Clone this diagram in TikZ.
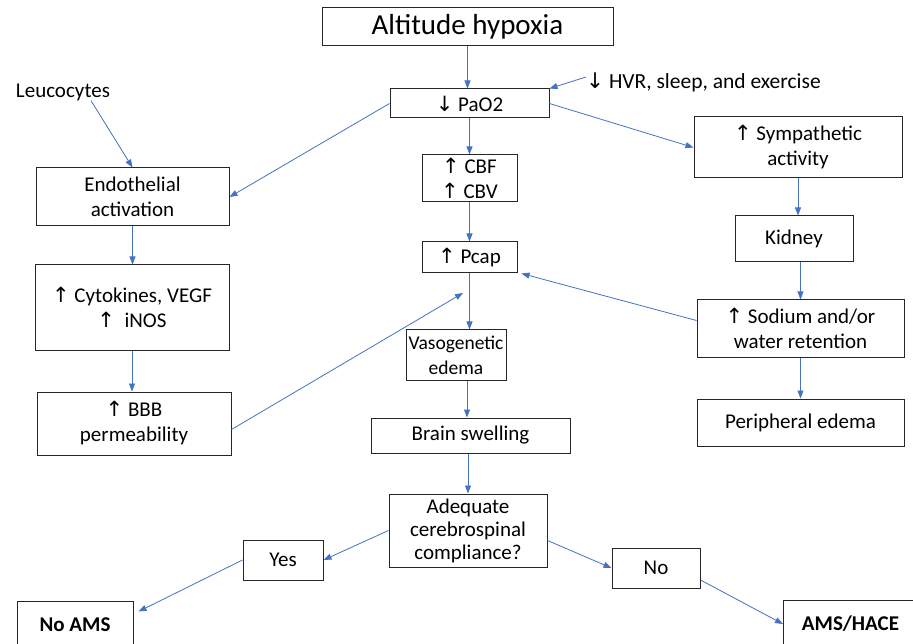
\documentclass[tikz,border=0pt]{standalone}
\usepackage{fontspec}
\setmainfont{Carlito}
\newfontfamily\arrfont{DejaVu Sans}
\usetikzlibrary{arrows.meta,calc}
\definecolor{arrowblue}{HTML}{4472C4}
\newcommand{\uparr}{{\arrfont\char"2191}}
\newcommand{\dnarr}{{\arrfont\char"2193}}
\begin{document}
\begin{tikzpicture}[x=1pt,y=-1pt,
  box/.style={draw=black!85, line width=1pt, inner sep=0pt, align=center,
    font=\fontsize{21}{25}\selectfont, text=black},
  plain/.style={inner sep=0pt, font=\fontsize{21}{25}\selectfont, text=black},
  con/.style={draw=arrowblue, line width=0.8pt, -{Triangle[length=8pt,width=6pt]}}]
\useasboundingbox (0,0) rectangle (913,644);
\fill[white] (0,0) rectangle (913,644);
\begin{scope}
\clip (0,0) rectangle (913,644);
% nodes
\node[box, minimum width=291pt, minimum height=38pt, font=\fontsize{29}{33}\selectfont] (alt) at (467.5,27) {Altitude hypoxia};
\node[box, minimum width=159pt, minimum height=29pt] (pao2) at (469.5,103.5) {\dnarr\ PaO2};
\node[plain, anchor=west, font=\fontsize{21.5}{25}\selectfont] (hvr) at (586,82) {\dnarr\ HVR, sleep, and exercise};
\node[plain] (leu) at (63,92) {Leucocytes};
\node[box, minimum width=193pt, minimum height=58pt] (endo) at (132.5,197) {Endothelial\\activation};
\node[box, minimum width=95pt, minimum height=47pt] (cbf) at (469.5,178.5) {\uparr\ CBF\\\uparr\ CBV};
\node[box, minimum width=208pt, minimum height=61pt] (symp) at (798,147.5) {\uparr\ Sympathetic\\activity};
\node[box, minimum width=95pt, minimum height=31pt] (pcap) at (469.5,257.5) {\uparr\ Pcap};
\node[box, minimum width=118pt, minimum height=46pt] (kidney) at (794,239) {Kidney};
\node[box, minimum width=194pt, minimum height=85pt] (cyto) at (132,307.5) {\uparr\ Cytokines, VEGF\\\uparr\ \ iNOS};
\node[box, minimum width=100pt, minimum height=50pt, font=\fontsize{19.5}{25}\selectfont] (vaso) at (456,355) {Vasogenetic\\edema};
\node[box, minimum width=207pt, minimum height=57pt] (sodium) at (800.5,328.5) {\uparr\ Sodium and/or\\water retention};
\node[box, minimum width=194pt, minimum height=63pt] (bbb) at (134,423.5) {\uparr\ BBB\\permeability};
\node[box, minimum width=199pt, minimum height=35pt] (brain) at (470.5,435.5) {Brain swelling};
\node[box, minimum width=207pt, minimum height=47pt] (periph) at (800.5,422.5) {Peripheral edema};
\node[box, minimum width=158pt, minimum height=73pt, font=\fontsize{21}{23}\selectfont] (adeq) at (468,530.5) {Adequate\\cerebrospinal\\compliance?};
\node[box, minimum width=80pt, minimum height=40pt] (yes) at (283,560) {Yes};
\node[box, minimum width=88pt, minimum height=40pt] (no) at (656,568) {No};
\node[box, minimum width=116pt, minimum height=48pt, font=\fontsize{21}{25}\selectfont\bfseries] (noams) at (75,625) {No AMS};
\node[box, minimum width=134pt, minimum height=48pt, font=\fontsize{21}{25}\selectfont\bfseries, anchor=west] (amshace) at (783,624) {AMS/HACE};
\coordinate (pend) at (463,293);
% connectors
\draw[con] (alt.south) -- (alt.south |- pao2.north);
\draw[con] ([yshift=5pt]hvr.west) -- (pao2.north east);
\draw[con] ($(leu.south)+(28,0)$) -- (endo.north);
\draw[con] (pao2.west) -- (endo.east);
\draw[con] (pao2.south) -- (cbf.north);
\draw[con] (pao2.east) -- (symp.west);
\draw[con] (endo.south) -- (endo.south |- cyto.north);
\draw[con] (cyto.south) -- (cyto.south |- bbb.north);
\draw[con] ([yshift=-6pt]bbb.east) -- (pend);
\draw[con] (cbf.south) -- (pcap.north);
\draw[con] (pcap.south) -- (pcap.south |- vaso.north);
\draw[con] ([yshift=8pt]sodium.west) -- ([xshift=4pt]pcap.south east);
\draw[con] (symp.south) -- (symp.south |- kidney.north);
\draw[con] (sodium.north |- kidney.south) -- (sodium.north);
\draw[con] (sodium.south) -- (periph.north);
\draw[con] ([xshift=11pt]vaso.south) -- ([xshift=11pt]vaso.south |- brain.north);
\draw[con] (adeq.north |- brain.south) -- (adeq.north);
\draw[con] (adeq.west) -- (yes.east);
\draw[con] (yes.west) -- ([shift={(5,11)}]noams.north east);
\draw[con] ([yshift=-10pt]adeq.east) -- (no.west);
\draw[con] ([yshift=-12pt]no.east) -- (amshace.west);
\end{scope}
\end{tikzpicture}
\end{document}
